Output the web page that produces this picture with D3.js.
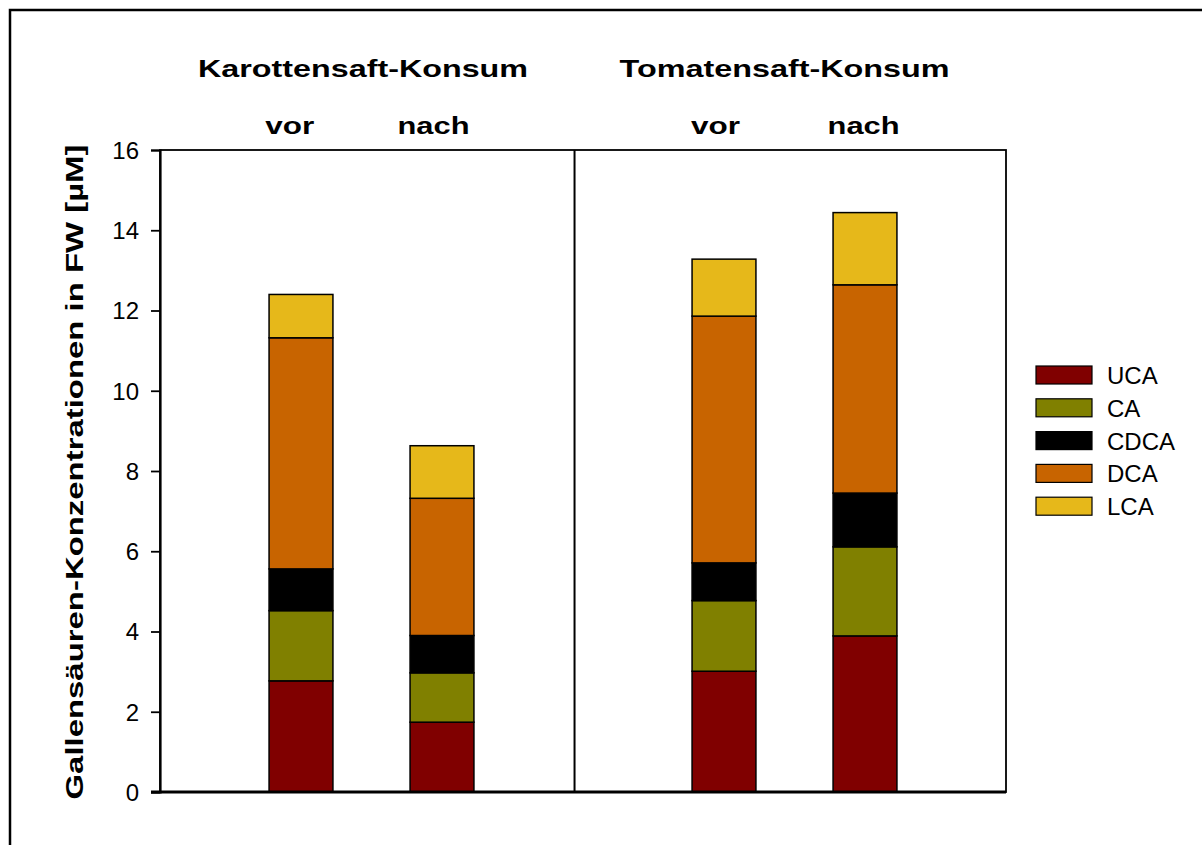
<!DOCTYPE html>
<html>
<head>
<meta charset="utf-8">
<script src="https://cdn.jsdelivr.net/npm/d3@7"></script>
<style>
  html, body { margin: 0; padding: 0; background: #fff; }
  svg { display: block; }
  text { font-family: "Liberation Sans", Arial, sans-serif; fill: #000; }
</style>
</head>
<body>
<svg id="chart" width="1202" height="845"></svg>
<script>
// ---- data ----
const groups = ["Karottensaft-Konsum", "Tomatensaft-Konsum"];
const barLabels = ["vor", "nach", "vor", "nach"];
const barPositions = [1, 2, 4, 5];
const seriesNames = ["UCA", "CA", "CDCA", "DCA", "LCA"];
const UCA  = [2.77, 1.74, 3.01, 3.89];
const CA   = [1.75, 1.23, 1.76, 2.22];
const CDCA = [1.04, 0.93, 0.94, 1.34];
const DCA  = [5.76, 3.42, 6.15, 5.19];
const LCA  = [1.08, 1.31, 1.42, 1.80];
const seriesColors = ["#800000", "#808000", "#000000", "#c86400", "#e6b81a"];
const yTicks = [0, 2, 4, 6, 8, 10, 12, 14, 16];
const yLabel = "Gallensäuren-Konzentrationen in FW [µM]";

const rows = barPositions.map((p, i) => ({
  pos: p, UCA: UCA[i], CA: CA[i], CDCA: CDCA[i], DCA: DCA[i], LCA: LCA[i]
}));

const svg = d3.select("#chart");

// outer frame
svg.append("rect").attr("x", 10).attr("y", 10).attr("width", 1210).attr("height", 860)
  .attr("fill", "none").attr("stroke", "#000").attr("stroke-width", 2.5);

const pLeft = 160, pRight = 1006, pTop = 150, pBottom = 792;
const x = d3.scaleLinear().domain([0, 6]).range([pLeft, pRight]);
const y = d3.scaleLinear().domain([0, 16]).range([pBottom, pTop]);
const barW = (x(1) - x(0)) * 0.453;

// plot frame (top / right)
svg.append("rect").attr("x", pLeft).attr("y", pTop).attr("width", pRight - pLeft).attr("height", pBottom - pTop)
  .attr("fill", "none").attr("stroke", "#000").attr("stroke-width", 1.8);

// divider
svg.append("line").attr("x1", x(2.94)).attr("x2", x(2.94)).attr("y1", pTop).attr("y2", pBottom)
  .attr("stroke", "#000").attr("stroke-width", 2);

// stacked bars
const stack = d3.stack().keys(seriesNames);
const stacked = stack(rows);
const layers = svg.append("g").selectAll("g").data(stacked).join("g")
  .attr("fill", (d, i) => seriesColors[i]);
layers.selectAll("rect").data(d => d).join("rect")
  .attr("x", d => x(d.data.pos) - barW / 2)
  .attr("width", barW)
  .attr("y", d => y(d[1]))
  .attr("height", d => y(d[0]) - y(d[1]))
  .attr("stroke", "#000").attr("stroke-width", 1.5);

// y axis
const yAxis = d3.axisLeft(y).tickValues(yTicks).tickSize(9).tickPadding(12).tickFormat(d3.format("d"));
const ga = svg.append("g").attr("transform", `translate(${pLeft},0)`).call(yAxis);
ga.select(".domain").attr("stroke", "#000").attr("stroke-width", 2.2);
ga.selectAll(".tick line").attr("stroke", "#000").attr("stroke-width", 1.8);
ga.selectAll(".tick text").attr("font-size", 24).attr("font-family", "Liberation Sans, Arial, sans-serif")
  .attr("fill", "#000").attr("dy", "0.35em");

// bottom axis line
svg.append("line").attr("x1", pLeft - 9).attr("x2", pRight).attr("y1", y(0)).attr("y2", y(0))
  .attr("stroke", "#000").attr("stroke-width", 3);

// group titles
const titleX = [1.44, 4.43];
svg.selectAll(".gtitle").data(groups).join("text")
  .attr("class", "gtitle")
  .attr("x", (d, i) => x(titleX[i]))
  .attr("y", 77)
  .attr("text-anchor", "middle")
  .attr("font-size", 24).attr("font-weight", "bold")
  .attr("textLength", 330).attr("lengthAdjust", "spacingAndGlyphs")
  .text(d => d);

// vor / nach labels
const labelOffsets = [-0.08, -0.06, -0.06, -0.01];
svg.selectAll(".blabel").data(barLabels).join("text")
  .attr("class", "blabel")
  .attr("x", (d, i) => x(barPositions[i] + labelOffsets[i]))
  .attr("y", 134)
  .attr("text-anchor", "middle")
  .attr("font-size", 24).attr("font-weight", "bold")
  .attr("textLength", d => d === "vor" ? 49 : 72).attr("lengthAdjust", "spacingAndGlyphs")
  .text(d => d);

// y label
svg.append("text")
  .attr("transform", `translate(83, ${472}) rotate(-90)`)
  .attr("text-anchor", "middle")
  .attr("font-size", 24).attr("font-weight", "bold")
  .attr("textLength", 655).attr("lengthAdjust", "spacingAndGlyphs")
  .text(yLabel);

// legend
const lg = svg.append("g").attr("transform", "translate(1036, 366)");
const items = lg.selectAll("g").data(seriesNames).join("g")
  .attr("transform", (d, i) => `translate(0, ${i * 32.8})`);
items.append("rect").attr("width", 56).attr("height", 18)
  .attr("fill", (d, i) => seriesColors[i]).attr("stroke", "#000").attr("stroke-width", 1.2);
items.append("text").attr("x", 71).attr("y", 18)
  .attr("font-size", 24).text(d => d);
</script>
</body>
</html>
